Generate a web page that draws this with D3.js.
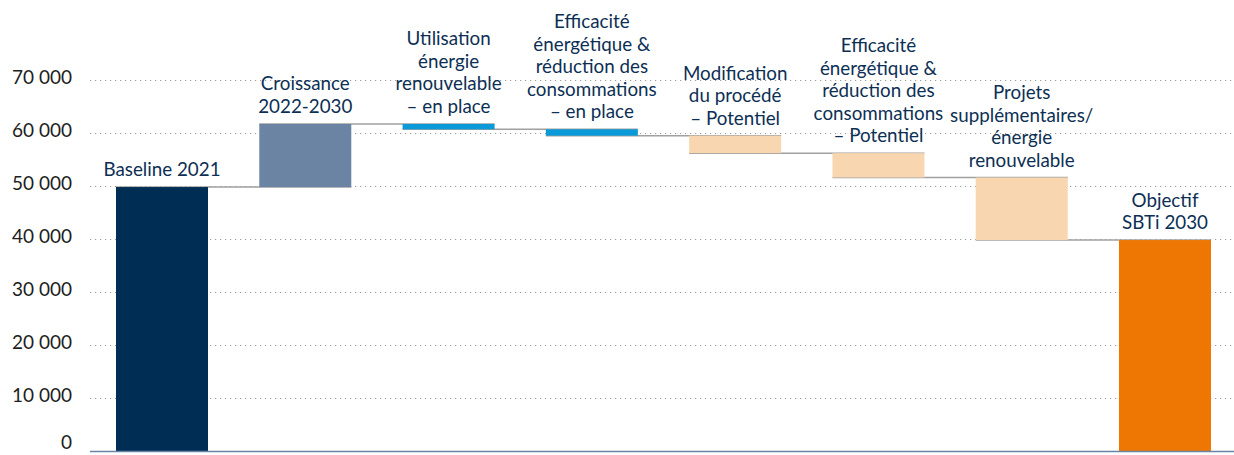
<!DOCTYPE html>
<html>
<head>
<meta charset="utf-8">
<script src="https://cdn.jsdelivr.net/npm/d3@7"></script>
<style>
  body { margin: 0; background: #fff; }
  svg text { font-family: Lato, "Noto Sans", sans-serif; }
</style>
</head>
<body>
<div class="waterfall"></div>
<script>
// categories (label lines) and steps of the waterfall
var categories = [
	["Baseline 2021"],
	["Croissance", "2022-2030"],
	["Utilisation", "énergie", "renouvelable", "– en place"],
	["Efficacité", "énergétique &", "réduction des", "consommations", "– en place"],
	["Modification", "du procédé", "– Potentiel"],
	["Efficacité", "énergétique &", "réduction des", "consommations", "– Potentiel"],
	["Projets", "supplémentaires/", "énergie", "renouvelable"],
	["Objectif", "SBTi 2030"]
];
var kinds = ["total", "up", "done", "done", "potential", "potential", "potential", "total"];
var values = [49800, 11900, -1000, -1200, -3300, -4600, -11800, 39800];
var yTicks = [0, 10000, 20000, 30000, 40000, 50000, 60000, 70000];

var colors = {
	total0: "#002d54",
	up: "#6b84a3",
	done: "#0a9ad9",
	potential: "#f8d6b0",
	total1: "#ee7703"
};

var width = 1234, height = 455;

var svg = d3.select('.waterfall')
	.append('svg')
	.attr('width', width)
	.attr('height', height);

var xScale = d3.scaleBand()
	.domain(d3.range(categories.length))
	.range([116, 1211])
	.paddingInner(0.358)
	.paddingOuter(0);

var yScale = d3.scaleLinear()
	.domain([0, 70000])
	.range([451, 80]);

var fmt = d3.formatLocale({ decimal: ",", thousands: " ", grouping: [3], currency: ["", " €"] }).format(",d");

//grid lines
svg.append('g')
	.selectAll('line')
	.data(yTicks.filter(function (d) { return d > 0; }))
	.enter().append('line')
	.attr('x1', 90)
	.attr('x2', width)
	.attr('y1', function (d) { return Math.round(yScale(d)) + 0.5; })
	.attr('y2', function (d) { return Math.round(yScale(d)) + 0.5; })
	.attr('stroke', '#9a9a9a')
	.attr('stroke-width', 1)
	.attr('stroke-dasharray', '1.2,3.8');

//tick labels
var yAxis = d3.axisLeft(yScale)
	.tickValues(yTicks)
	.tickFormat(fmt)
	.tickSize(0)
	.tickPadding(0);

var gy = svg.append('g')
	.attr('transform', 'translate(72,0)')
	.call(yAxis);
gy.select('.domain').remove();
gy.selectAll('text')
	.attr('fill', '#1e1e1e')
	.attr('dy', function (d) { return d === 0 ? '-0.12em' : '0.18em'; })
	.style('font-size', '19px');

//compute waterfall segments
var running = 0;
var bars = values.map(function (v, i) {
	var start, end;
	if (kinds[i] === "total") {
		start = 0; end = v; running = v;
	} else {
		start = running; end = running + v; running = end;
	}
	return { i: i, start: start, end: end, kind: kinds[i], level: running };
});

//connectors
svg.append('g')
	.selectAll('line')
	.data(bars.slice(0, bars.length - 1))
	.enter().append('line')
	.attr('x1', function (d) { return xScale(d.i); })
	.attr('x2', function (d) { return xScale(d.i + 1) + xScale.bandwidth(); })
	.attr('y1', function (d) { return yScale(d.level); })
	.attr('y2', function (d) { return yScale(d.level); })
	.attr('stroke', '#a0a0a0')
	.attr('stroke-width', 1.5);

//bars
svg.append('g')
	.selectAll('rect')
	.data(bars)
	.enter().append('rect')
	.attr('x', function (d) { return xScale(d.i); })
	.attr('width', xScale.bandwidth())
	.attr('y', function (d) { return yScale(Math.max(d.start, d.end)); })
	.attr('height', function (d) { return Math.abs(yScale(d.start) - yScale(d.end)); })
	.attr('fill', function (d) {
		if (d.kind === "total") return d.i === 0 ? colors.total0 : colors.total1;
		return colors[d.kind];
	});

//baseline axis
svg.append('line')
	.attr('x1', 90)
	.attr('x2', width)
	.attr('y1', yScale(0) + 0.5)
	.attr('y2', yScale(0) + 0.5)
	.attr('stroke', '#6b84a3')
	.attr('stroke-width', 1.5);

//category labels
var lineH = 22.5;
var labels = svg.append('g')
	.selectAll('text')
	.data(bars)
	.enter().append('text')
	.attr('text-anchor', 'middle')
	.attr('fill', '#0d2f54')
	.style('font-size', '18.8px')
	.attr('transform', function (d) {
		var top = yScale(Math.max(d.start, d.end));
		var n = categories[d.i].length;
		return 'translate(' + (xScale(d.i) + xScale.bandwidth() / 2) + ',' + (top - 11 - (n - 1) * lineH) + ')';
	});

labels.selectAll('tspan')
	.data(function (d) { return categories[d.i]; })
	.enter().append('tspan')
	.attr('x', 0)
	.attr('dy', function (d, j) { return j === 0 ? 0 : lineH; })
	.text(function (d) { return d; });
</script>
</body>
</html>
